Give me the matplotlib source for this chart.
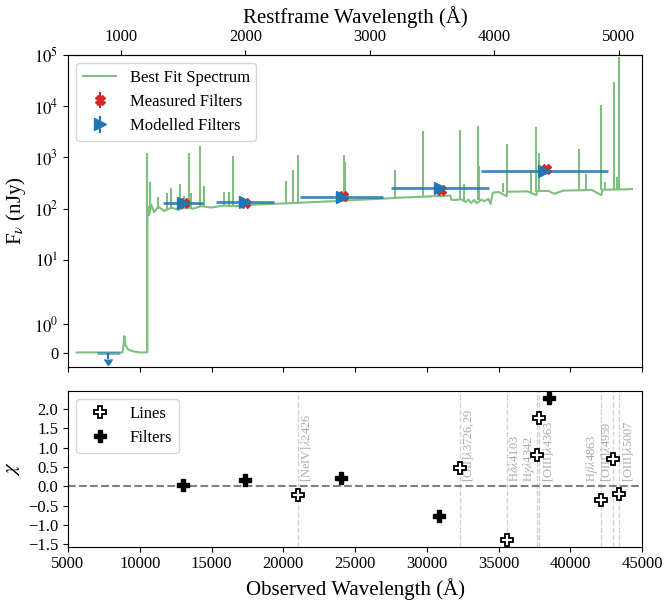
import numpy as np
import matplotlib
matplotlib.use('Agg')
import matplotlib.pyplot as plt

plt.rcParams['font.family'] = 'serif'
plt.rcParams['font.serif'] = ['Liberation Serif']
plt.rcParams['mathtext.fontset'] = 'stix'

z = 7.676  # redshift

# continuo del espectro (Angstrom observado, nJy)
cont_wave = [5600, 8800, 8880, 8930, 8990, 9200, 9600, 10000, 10530, 10531, 10560, 10650,
             10800, 11000, 11300, 11700, 12200, 12700, 13200, 13700, 14300, 15000, 15800,
             16700, 17500, 18500, 19500, 20500, 21500, 22500, 23500, 24500, 25500, 26500,
             27500, 28500, 29500, 30500, 31300, 31650, 31700, 32000, 32400, 32700, 32900,
             33100, 33300, 33500, 33800, 34000, 34300, 34450, 34600, 35000, 35570, 35600,
             36500, 37000, 37640, 37700, 38500, 38870, 39500, 40500, 41500, 42160, 42250,
             43000, 43700, 44300]
cont_flux = [0.02, 0.02, 0.3, 0.59, 0.3, 0.12, 0.05, 0.02, 0.02, 60, 110, 75,
             120, 85, 110, 90, 105, 95, 108, 100, 112, 105, 115,
             112, 118, 122, 125, 128, 132, 136, 140, 145, 150, 155,
             160, 166, 170, 175, 178, 180, 150, 148, 152, 135, 150,
             130, 148, 128, 150, 140, 155, 124, 205, 212, 175, 214,
             216, 218, 184, 220, 222, 195, 225, 228, 232, 184, 234,
             236, 238, 241]

# lineas de emision: posicion, base y pico
line_wave = [10530, 10720, 11300, 11930, 12200, 12800, 13100, 13400, 13600, 14220, 14450,
             15840, 16220, 16520, 20200, 20700, 21000, 24260, 24330, 27770, 29720, 32330,
             32580, 33540, 33630, 35300, 35570, 37240, 37640, 37820, 40640, 41110, 42160,
             42400, 43030, 43280, 43420]
line_base = [0.02, 100, 100, 100, 100, 100, 100, 105, 105, 110, 110,
             112, 112, 114, 126, 128, 130, 145, 145, 162, 170, 150,
             140, 145, 145, 210, 210, 215, 215, 215, 225, 225, 230,
             230, 235, 235, 235]
line_peak = [1220, 334, 171, 200, 248, 309, 180, 1220, 200, 1690, 275,
             214, 214, 1075, 346, 560, 1130, 1130, 813, 573, 3200, 3450,
             309, 4020, 672, 318, 1840, 573, 3860, 1190, 1440, 480, 10600,
             334, 29900, 417, 88600]

# filtros medidos
meas_x = [13060, 17300, 24170, 31000, 38300]
meas_y = [127, 129, 176, 230, 600]
meas_err = [10, 10, 12, 18, 40]

# filtros modelados
mod_x = [13025, 17330, 24070, 30920, 38180]
mod_y = [130, 133, 171, 255, 545]
mod_hw = [1375, 2000, 2885, 3405, 4420]

# limite superior
lim_x, lim_y, lim_hw = 7810, 0.0, 815

# chi de lineas y filtros
line_x = [21001, 32334, 35587, 37680, 37846, 42172, 43010, 43429]
line_chi = [-0.215, 0.475, -1.379, 0.80, 1.76, -0.353, 0.71, -0.197]
line_names = [r'[NeIV]$\lambda$2426', r'[OII]$\lambda$3726,29', r'H$\delta\lambda$4103',
              r'H$\gamma\lambda$4342', r'[OIII]$\lambda$4363', r'H$\beta\lambda$4863',
              r'[OIII]$\lambda$4959', r'[OIII]$\lambda$5007']
# desplazamiento de cada etiqueta respecto de su linea (puntos)
label_dx = [6.3, 6.3, 5.5, -5.5, 6.3, -7.0, -5.5, 6.3]

filt_x = [13004, 17352, 24051, 30868, 38517]
filt_chi = [0.045, 0.155, 0.225, -0.776, 2.286]

fig = plt.figure(figsize=(6.64, 6.02), dpi=100)
ax1 = fig.add_axes([0.1024, 0.3909, 0.8645, 0.5183])
ax2 = fig.add_axes([0.1024, 0.0919, 0.8645, 0.2586], sharex=ax1)

verde = '#80bf80'
ax1.plot(cont_wave, cont_flux, color=verde, lw=1.5, label='Best Fit Spectrum', zorder=1)
ax1.vlines(line_wave, line_base, line_peak, color=verde, lw=1.5, zorder=1)

ax1.errorbar(meas_x, meas_y, yerr=meas_err, fmt='X', color='tab:red', ms=7,
             label='Measured Filters', zorder=3)
ax1.hlines(mod_y, np.array(mod_x) - np.array(mod_hw), np.array(mod_x) + np.array(mod_hw),
           color='tab:blue', lw=2, alpha=0.85, zorder=2)
ax1.errorbar(mod_x, mod_y, yerr=np.array(mod_y) * 0.08, fmt='>', color='tab:blue', ms=8,
             label='Modelled Filters', zorder=4)
ax1.hlines(lim_y, lim_x - lim_hw, lim_x + lim_hw, color='tab:blue', lw=2, alpha=0.6, zorder=2)
ax1.errorbar(lim_x, lim_y, yerr=0.2, uplims=True, fmt='none', color='tab:blue', zorder=4)

ax1.set_yscale('symlog', linthresh=2)
ax1.set_ylim(-0.48, 1e5)
ax1.set_yticks([0, 1, 10, 100, 1e3, 1e4, 1e5])
ax1.set_yticklabels(['0', '$10^{0}$', '$10^{1}$', '$10^{2}$', '$10^{3}$', '$10^{4}$', '$10^{5}$'])
ax1.yaxis.set_minor_locator(matplotlib.ticker.NullLocator())
ax1.set_xlim(5000, 45000)
ax1.tick_params(labelbottom=False, labelsize=12)
ax1.set_ylabel(r'F$_\nu$ (nJy)', fontsize=15)
ax1.legend(loc='upper left', fontsize=12)

sec = ax1.secondary_xaxis('top', functions=(lambda x: x / (1 + z), lambda x: x * (1 + z)))
sec.set_xticks([1000, 2000, 3000, 4000, 5000])
sec.tick_params(labelsize=12)
sec.set_xlabel('Restframe Wavelength (Å)', fontsize=15)

# panel de chi
ax2.axhline(0, color='gray', ls='--', lw=1.5, zorder=1)
for xl, nombre, dx in zip(line_x, line_names, label_dx):
    ax2.axvline(xl, color='lightgray', ls='--', lw=1, zorder=0)
    ax2.annotate(nombre, (xl, 0.1), xytext=(dx, 0), textcoords='offset points',
                 rotation=90, ha='center', va='bottom', color='#aaaaaa', fontsize=9)
ax2.plot(line_x, line_chi, 'P', mfc='white', mec='k', ms=9, mew=1.3, ls='none',
         label='Lines', zorder=3)
ax2.plot(filt_x, filt_chi, 'P', color='k', ms=9, ls='none', label='Filters', zorder=3)
ax2.set_yticks([-1.5, -1.0, -0.5, 0.0, 0.5, 1.0, 1.5, 2.0])
ax2.set_xticks(np.arange(5000, 45001, 5000))
ax2.tick_params(labelsize=12)
ax2.set_ylabel(r'$\chi$', fontsize=15)
ax2.set_xlabel('Observed Wavelength (Å)', fontsize=15)
ax2.legend(loc='upper left', fontsize=12)

plt.savefig('out.png', dpi=100)
